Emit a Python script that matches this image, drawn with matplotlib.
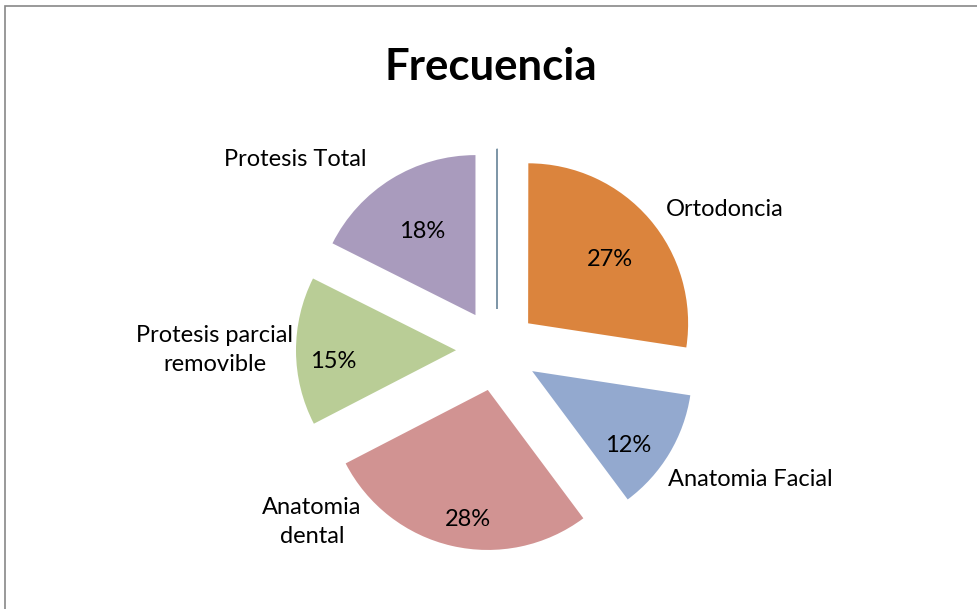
import matplotlib.pyplot as plt
from matplotlib.patches import Rectangle

# data (clockwise from 12 o'clock, first slice is an empty category)
categories = ['', 'Ortodoncia', 'Anatomia Facial', 'Anatomia\ndental',
              'Protesis parcial\nremovible', 'Protesis Total']
values = [0, 27.4, 12.4, 27.6, 15.0, 17.6]
colors = ['#4F81BD', '#DB843D', '#93A9CF', '#D19392', '#B9CD96', '#A99BBD']

# label / percentage positions in pixels (x, y from top)
label_pos = [None, (725, 209), (750, 480), (312, 522), (215, 350), (295, 160)]
pct_pos = [None, (610, 260), (628, 446), (468, 520), (333, 362), (422, 232)]

W, H = 977, 609
fig = plt.figure(figsize=(W / 100, H / 100), dpi=100)
ax = fig.add_axes([0, 0, 1, 1])

draw_vals = [v if v > 0 else 0.02 for v in values]
wedges, _ = ax.pie(draw_vals, colors=colors, startangle=90, counterclock=False,
                   radius=160, center=(497, H - 350), explode=[41] * len(values),
                   wedgeprops=dict(linewidth=0))
wedges[0].set_edgecolor('#7F97A8')
wedges[0].set_linewidth(1)

ax.set_xlim(0, W)
ax.set_ylim(0, H)
ax.set_aspect('equal')
ax.axis('off')

font = 'Lato'
for i, v in enumerate(values):
    if v == 0:
        continue
    lx, ly = label_pos[i]
    ax.text(lx, H - ly, categories[i], ha='center', va='center', fontsize=17,
            family=font, linespacing=1.5)
    px, py = pct_pos[i]
    ax.text(px, H - py, f'{v:.0f}%', ha='center', va='center', fontsize=17, family=font)

ax.text(491, H - 67, 'Frecuencia', ha='center', va='center', fontsize=31.5,
        fontweight='bold', family=font)

# chart border (left and top edges visible)
fig.patches.append(Rectangle((5 / W, -0.1), 1.2, (H - 6) / H + 0.1, transform=fig.transFigure,
                             fill=False, edgecolor='#878787', linewidth=1.2))

fig.savefig('out.png', dpi=100, facecolor='white')
